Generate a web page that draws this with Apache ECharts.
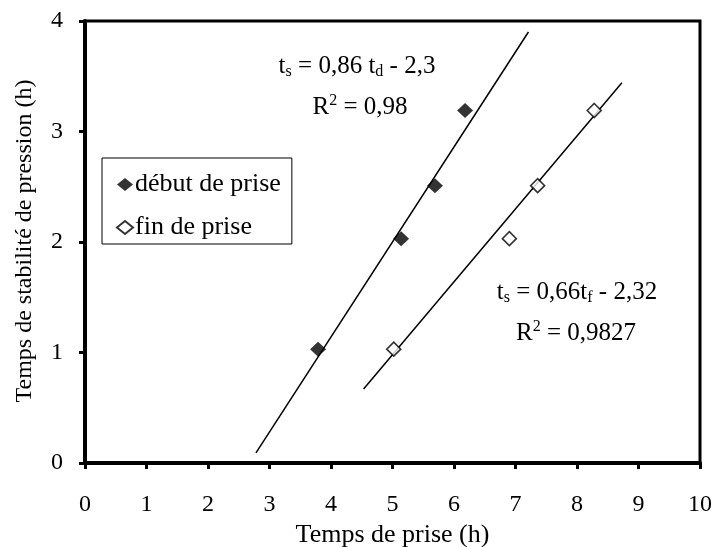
<!DOCTYPE html>
<html>
<head>
<meta charset="utf-8">
<script src="https://cdn.jsdelivr.net/npm/echarts@6/dist/echarts.min.js"></script>
<style>
  html, body { margin: 0; padding: 0; background: #fff; }
  #chart { width: 715px; height: 547px; }
</style>
</head>
<body>
<div id="chart"></div>
<script>
// Measured setting times (h) and pressure-stability times (h)
const debutX = [3.79, 5.14, 5.69, 6.18];
const debutY = [1.03, 2.03, 2.51, 3.19];
const finX = [5.02, 6.90, 7.36, 8.28];
const finY = [1.03, 2.03, 2.51, 3.19];

// Linear fits as stated on the chart, with the x-range each line covers
const debutFit = { slope: 0.86, intercept: -2.3, xRange: [2.78, 7.21] };
const finFit = { slope: 0.66, intercept: -2.32, xRange: [4.53, 8.73] };

const xTicks = [0, 10, 1];
const yTicks = [0, 4, 1];

const FONT = '"Liberation Serif", "Times New Roman", serif';

function pairs(xs, ys) { return xs.map((x, i) => [x, ys[i]]); }
function fitLine(f) { return f.xRange.map(x => [x, f.slope * x + f.intercept]); }

const chart = echarts.init(document.getElementById('chart'), null, { renderer: 'canvas' });

const eqRich = {
  m: { fontFamily: FONT, fontSize: 25, color: '#000', lineHeight: 28 },
  sub: { fontFamily: FONT, fontSize: 16, color: '#000', lineHeight: 16, verticalAlign: 'bottom' },
  sup: { fontFamily: FONT, fontSize: 16, color: '#000', lineHeight: 16, verticalAlign: 'top' }
};

function eqText(str, cx, cy) {
  return {
    type: 'text', x: cx, y: cy, z: 100,
    style: { text: str, rich: eqRich, align: 'center', verticalAlign: 'middle', fontFamily: FONT, fontSize: 25, fill: '#000' }
  };
}

chart.setOption({
  animation: false,
  backgroundColor: '#fff',
  grid: {
    left: 85, right: 15, top: 21, bottom: 84,
    outerBoundsMode: 'none',
    containLabel: false,
    show: true, borderColor: '#000', borderWidth: 3, backgroundColor: 'transparent'
  },
  xAxis: {
    type: 'value', min: xTicks[0], max: xTicks[1], interval: xTicks[2],
    name: 'Temps de prise (h)', nameLocation: 'middle', nameGap: 57,
    nameTextStyle: { fontFamily: FONT, fontSize: 26, color: '#000' },
    axisLine: { onZero: false, lineStyle: { color: '#000', width: 4 } },
    axisTick: { inside: false, length: 6, lineStyle: { color: '#000', width: 3 } },
    axisLabel: { fontFamily: FONT, fontSize: 24, color: '#000', margin: 30 },
    splitLine: { show: false }
  },
  yAxis: {
    type: 'value', min: yTicks[0], max: yTicks[1], interval: yTicks[2],
    axisLine: { onZero: false, lineStyle: { color: '#000', width: 4 } },
    axisTick: { inside: false, length: 6, lineStyle: { color: '#000', width: 3 } },
    axisLabel: { fontFamily: FONT, fontSize: 24, color: '#000', margin: 22 },
    splitLine: { show: false }
  },
  legend: {
    data: ['début de prise', 'fin de prise'],
    orient: 'vertical',
    left: 102, top: 158,
    padding: [13, 11, 3, 14],
    backgroundColor: '#fff', borderColor: '#000', borderWidth: 1,
    itemWidth: 16, itemHeight: 13, itemGap: 16,
    textStyle: { fontFamily: FONT, fontSize: 26, lineHeight: 27, color: '#000', padding: [0, 0, 0, -3] }
  },
  series: [
    {
      name: 'début de prise', type: 'scatter', data: pairs(debutX, debutY),
      symbol: 'diamond', symbolSize: [16, 15],
      itemStyle: { color: '#000', borderColor: '#000', borderWidth: 0 }, z: 5
    },
    {
      name: 'fin de prise', type: 'scatter', data: pairs(finX, finY),
      symbol: 'diamond', symbolSize: [14, 14],
      itemStyle: { color: '#fff', borderColor: '#000', borderWidth: 1.6 }, z: 5
    },
    {
      name: 'fit-debut', type: 'line', data: fitLine(debutFit), showSymbol: false, symbol: 'none',
      lineStyle: { color: '#000', width: 1.5 }, z: 3, silent: true
    },
    {
      name: 'fit-fin', type: 'line', data: fitLine(finFit), showSymbol: false, symbol: 'none',
      lineStyle: { color: '#000', width: 1.5 }, z: 3, silent: true
    }
  ],
  graphic: [
    {
      // vertical axis title
      type: 'text', x: 25, y: 241, rotation: Math.PI / 2, z: 100,
      style: {
        text: 'Temps de stabilité de pression (h)', fontFamily: FONT, fontSize: 24,
        fill: '#000', align: 'center', verticalAlign: 'middle'
      }
    },
    eqText('{m|t}{sub|s}{m| = 0,86 t}{sub|d}{m| - 2,3}', 357, 66),
    eqText('{m|R}{sup|2}{m| = 0,98}', 360, 107),
    eqText('{m|t}{sub|s}{m| = 0,66t}{sub|f}{m| - 2,32}', 577, 292),
    eqText('{m|R}{sup|2}{m| = 0,9827}', 576, 333)
  ]
});
</script>
</body>
</html>
